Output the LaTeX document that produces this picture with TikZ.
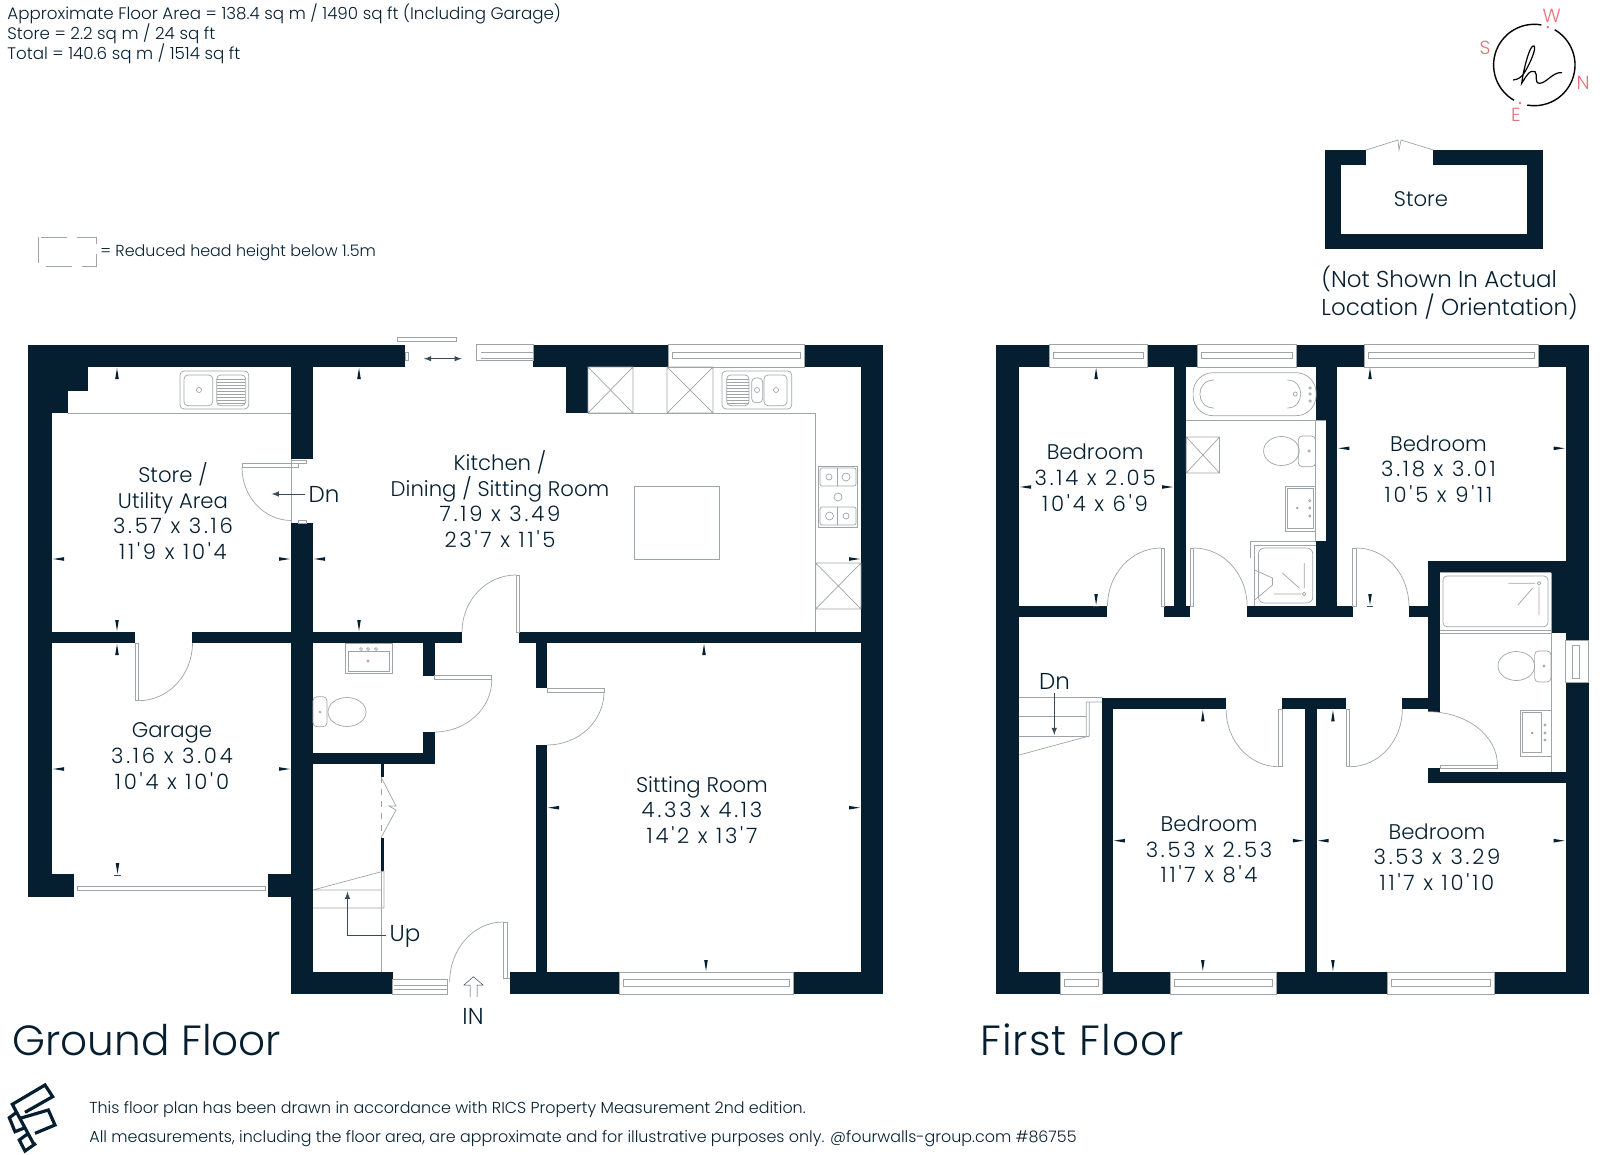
\documentclass[tikz,border=0pt]{standalone}
\usepackage{fontspec}
\usepackage{tikz}
\newfontfamily\planfont{Poppins Light}
\definecolor{navy}{HTML}{051F30}
\definecolor{linegrey}{HTML}{9EA4A8}
\definecolor{pinkish}{HTML}{E8707A}

% survey ticks, tip on the wall
\newcommand{\tkU}[2]{\fill[navy] (#1-1.8,#2+12) -- (#1,#2+1) -- (#1+1.8,#2+12) -- cycle;}
\newcommand{\tkD}[2]{\fill[navy] (#1-1.8,#2-12) -- (#1,#2-1) -- (#1+1.8,#2-12) -- cycle;}
\newcommand{\tkL}[2]{\fill[navy] (#1+12,#2-1.8) -- (#1+1,#2) -- (#1+12,#2+1.8) -- cycle;}
\newcommand{\tkR}[2]{\fill[navy] (#1-12,#2-1.8) -- (#1-1,#2) -- (#1-12,#2+1.8) -- cycle;}
% window: x1, x2, y1, y2, inner y1, inner y2
\newcommand{\winH}[6]{\draw[fixture] (#1,#3) rectangle (#2,#4);
  \draw[fixture] (#1+4,#5) rectangle (#2-4,#6);}
\newcommand{\xbox}[4]{\draw[fixture] (#1,#2) rectangle (#3,#4) (#1,#2) -- (#3,#4) (#1,#4) -- (#3,#2);}
\newcommand{\spot}[3]{\draw[fixture] (#1,#2) circle[radius=#3];}
% room sizes sit wider than the words
\newcommand{\sizes}[1]{{\addfontfeature{LetterSpace=13}#1}}

\begin{document}
\begin{tikzpicture}
    [x=0.5pt, y=-0.5pt,
     wall/.style={fill=navy, draw=none},
     fixture/.style={draw=linegrey, line width=0.35pt},
     pointer/.style={draw=navy!80!white, line width=0.25pt},
     room/.style={align=center, text=navy, inner sep=0pt, font=\planfont\fontsize{10.6}{12.8}\selectfont},
     sign/.style={text=navy, inner sep=0pt, font=\planfont\fontsize{11.5}{13}\selectfont},
     small/.style={anchor=west, text=navy, inner sep=0pt, font=\planfont\fontsize{7.95}{10}\selectfont},
     head/.style={anchor=west, text=navy, inner sep=0pt, font=\planfont\fontsize{8.35}{10}\selectfont},
     title/.style={anchor=west, text=navy, inner sep=0pt, font=\planfont\fontsize{21.1}{24}\selectfont},
     compass/.style={text=pinkish, inner sep=0pt, font=\planfont\fontsize{9.5}{11}\selectfont}]
    \useasboundingbox (0,0) rectangle (1600,1155);

    % header
    \node[head] (area) at (7,14) {Approximate Floor Area = 138.4 sq m / 1490 sq ft (Including Garage)};
    \node[head] (storearea) at (7,34) {Store = 2.2 sq m / 24 sq ft};
    \node[head] (total) at (7,54) {Total = 140.6 sq m / 1514 sq ft};
    \draw[fixture, dash pattern=on 13pt off 5pt] (38.5,237.5) rectangle (96,266);
    \node[small] (legend) at (100,253) {= Reduced head height below 1.5m};

    % ground floor walls
    \foreach \a/\b/\c/\d in {28/344.5/405/367, 28/344.5/52/897, 52/367/88/391, 52/391/68/413,
        291/367/313/459, 291/523/313/994, 52/632/135/643, 192/632/462/643, 519/632/883/643,
        533/344.5/668/367, 804/344.5/883/367, 861/367/883/994, 566/367/588/413,
        28/874/74/897, 268/874/313/897, 291/972/392.6/994, 510/972/619/994, 793/972/883/994,
        536/643/547/688, 536/745/547/972, 423/643/434.5/675.7, 423/732/434.5/764, 313/752.7/434.5/764,
        381/764/384/777, 381/837.7/384/871}
        \fill[wall] (\a,\b) rectangle (\c,\d);

    % ground floor windows
    \winH{668}{804}{344.5}{367}{352.5}{358}
    \winH{619}{793}{972}{994}{979}{986}
    \draw[fixture] (77,886) rectangle (265,890);
    \draw[fixture] (392.6,979) rectangle (447,994) (394,985) -- (447,985) (394,989) -- (447,989);
    \draw[fixture] (397,337) rectangle (456,341.7);
    \draw[fixture] (405,352) rectangle (408.5,360);
    \draw[fixture] (476.7,344.5) rectangle (533,360.7) (481,352.5) -- (533,352.5) (481,358) -- (533,358);
    \draw[pointer, <->, >=latex] (424,358.7) -- (461.7,358.7);

    % ground floor doors
    \draw[fixture] (516,575) rectangle (519,632);
    \draw[fixture] (516,575) arc[start angle=270, end angle=180, x radius=54, y radius=57];
    \draw[fixture] (135,643) rectangle (138.5,700.7);
    \draw[fixture] (138.5,700.7) arc[start angle=90, end angle=0, x radius=54, y radius=57.7];
    \draw[fixture] (242,463) rectangle (298,467.5) (291.5,459) -- (291.5,523);
    \draw[fixture] (291,460) -- (306.7,460) -- (306.7,463) -- (298,463);
    \draw[fixture] (298,523) rectangle (306.7,520);
    \draw[fixture] (242,467.5) arc[start angle=180, end angle=90, x radius=49.5, y radius=53];
    \draw[fixture] (434.5,675.7) rectangle (491.8,679.7);
    \draw[fixture] (491.8,679.7) arc[start angle=0, end angle=90, x radius=57.3, y radius=52.3];
    \draw[fixture] (547,688) rectangle (604,692);
    \draw[fixture] (604,692) arc[start angle=0, end angle=90, x radius=57, y radius=53];
    \draw[fixture] (503,922) rectangle (507,978) (507,978) -- (510,978);
    \draw[fixture] (503,922) arc[start angle=270, end angle=180, x radius=53.3, y radius=60];
    \draw[fixture] (381,777) -- (396,806) -- (389,806) -- (396,810) -- (381,837.7);
    \draw[fixture, dashed] (381,777) -- (381,837.7);

    % stairs up and entrance arrow
    \draw[fixture] (384,871) -- (313,890) (313,890) -- (381,890) (313,908) -- (384,908) -- (384,871);
    \draw[fixture] (381,871) -- (381,972);
    \draw[pointer, ->, >=latex] (386,935) -- (347.5,935) -- (347.5,891.7);
    \draw[pointer] (470,997) -- (470,985) -- (464,985) -- (473.4,976.7) -- (483,985) -- (477,985) -- (477,997);

    % counters and kitchen units
    \draw[fixture] (68,413) -- (291,413) (588,413) -- (815.7,413) -- (815.7,632);
    \xbox{588}{367}{633}{413}
    \xbox{667}{367}{713}{413}
    \xbox{815.7}{563}{861}{609}
    \draw[fixture] (634,486.7) rectangle (719,559);
    % utility sink
    \draw[fixture, rounded corners=2pt] (180,371) rectangle (248.7,409);
    \draw[fixture, rounded corners=2pt] (184,375) rectangle (212.7,405.7);
    \draw[fixture, rounded corners=2pt] (216.7,375) rectangle (245.7,405.7);
    \spot{199}{390}{2.5}
    \foreach \y in {379,382,...,403} \draw[fixture] (217,\y) -- (245,\y);
    % kitchen sink
    \draw[fixture, rounded corners=2pt] (722,371) rectangle (791.7,409);
    \draw[fixture, rounded corners=2pt] (726.7,375) rectangle (749,405.7);
    \draw[fixture, rounded corners=2pt] (751.7,378) rectangle (762.7,402.7);
    \draw[fixture, rounded corners=2pt] (764,375) rectangle (787,405.7);
    \spot{757}{390}{2.5}
    \spot{776}{390}{2.5}
    \foreach \y in {379,382,...,403} \draw[fixture] (727,\y) -- (749,\y);
    % hob
    \draw[fixture] (818,466.7) rectangle (857,527);
    \draw[fixture, rounded corners=1pt] (820,468) rectangle (856,486) (820,507) rectangle (856,525);
    \draw[fixture] (837,468) -- (837,486) (837,507) -- (837,525);
    \spot{829}{477}{3}
    \spot{846}{477}{4}
    \spot{838}{497}{4}
    \spot{829.5}{516}{4}
    \spot{846}{516}{3}
    % cloakroom
    \draw[fixture] (345.6,643) rectangle (392,673) (348,651) rectangle (389,671);
    \spot{361}{649}{1.5}
    \spot{368}{649}{1.5}
    \spot{376}{649}{1.5}
    \spot{368}{661}{1.2}
    \draw[fixture, rounded corners=2pt] (313,696.7) rectangle (327,726.7);
    \draw[fixture] (347,712) ellipse[x radius=19, y radius=14.5];
    \draw[fixture] (320,712) circle[radius=1];

    % ground floor ticks
    \tkU{117}{367} \tkL{52}{559} \tkR{291}{559} \tkD{117}{632}
    \tkU{117}{643} \tkL{52}{769} \tkR{291}{769} \tkD{117.5}{875}
    \draw[pointer] (114,875) -- (121,875);
    \tkU{359}{367} \tkL{313}{559} \tkR{861}{559} \tkD{359}{632}
    \tkU{704}{643} \tkL{547}{807.7} \tkR{861}{807.7} \tkD{706}{972}

    % ground floor labels
    \node[room] (utility) at (173,511) {Store /\\Utility Area\\\sizes{3.57 x 3.16}\\\sizes{11'9 x 10'4}};
    \node[room] (kitchen) at (500,499) {Kitchen /\\Dining / Sitting Room\\\sizes{7.19 x 3.49}\\\sizes{23'7 x 11'5}};
    \node[room] (garage) at (172,756) {Garage\\\sizes{3.16 x 3.04}\\\sizes{10'4 x 10'0}};
    \node[room] (sitting) at (702,810) {Sitting Room\\\sizes{4.33 x 4.13}\\\sizes{14'2 x 13'7}};
    \node[sign] (dnutil) at (324,494) {Dn};
    \node[sign] (up) at (405,936) {Up};
    \node[sign] (in) at (473,1016) {IN};
    \draw[pointer, ->, >=latex] (dnutil.west) ++(-3,0) -- (271.7,494);

    % first floor
    \begin{scope}[shift={(8.96,0)}, xscale=0.991]
    \foreach \a/\b/\c/\d in {996/344.5/1049.6/367, 1149/344.5/1199/367, 1299/344.5/1367.5/367, 1543.4/344.5/1594.4/367,
        996/367/1019.4/994, 1570.8/367/1594.4/572.7, 1570.8/682.3/1594.4/994, 1175.6/367/1188/606,
        1318.5/367/1340.5/420.7, 1329/420.7/1340.5/541, 1318.5/541/1340.5/606,
        1019.4/606/1108.5/617.3, 1165.4/606/1191.7/617.3, 1249.4/606/1355.8/617.3, 1412.7/606/1444/617.3,
        1432.3/561/1594.4/572.7, 1432.3/561/1444/711.7, 1556/572.7/1594.4/633, 1570.8/633/1594.4/640.7,
        1103/697.7/1228.2/709.3, 1285/697.7/1349.5/709.3, 1406/697.7/1444/709.3,
        1103/697.7/1114/994, 1307.5/697.7/1319.7/994,
        1432.3/768.3/1444/783.3, 1444/772.3/1571/783.3,
        1019.4/972/1060.6/994, 1114/972/1171.7/994, 1279/972/1391/994, 1498.6/972/1571/994}
        \fill[wall] (\a,\b) rectangle (\c,\d);

    % first floor windows
    \winH{1049.6}{1149}{344.5}{367}{352.5}{358}
    \winH{1199}{1299}{344.5}{367}{352.5}{358}
    \winH{1367.5}{1543.4}{344.5}{367}{352.5}{358}
    \winH{1060.6}{1103}{972}{994}{979}{986}
    \winH{1171.7}{1279}{972}{994}{979}{986}
    \winH{1391}{1498.6}{972}{994}{979}{986}
    \draw[fixture] (1571,640.7) rectangle (1594,682.3) (1578,645) rectangle (1585,678);

    % first floor doors
    \draw[fixture] (1162.7,548) rectangle (1166,606);
    \draw[fixture] (1162.7,548) arc[start angle=270, end angle=180, x radius=54.2, y radius=58];
    \draw[fixture] (1191.7,548) rectangle (1195.6,606);
    \draw[fixture] (1195.6,548) arc[start angle=270, end angle=360, x radius=53.8, y radius=58];
    \draw[fixture] (1355.8,548) rectangle (1359.8,606);
    \draw[fixture] (1359.8,548) arc[start angle=270, end angle=360, x radius=52.9, y radius=58];
    \draw[fixture] (1281,709.3) rectangle (1285,766.7);
    \draw[fixture] (1281,766.7) arc[start angle=90, end angle=180, x radius=52.8, y radius=57.4];
    \draw[fixture] (1349.5,709.3) rectangle (1353,766.7);
    \draw[fixture] (1353,766.7) arc[start angle=90, end angle=0, x radius=53, y radius=57.4];
    \draw[fixture] (1444,765) rectangle (1502,768.3);
    \draw[fixture] (1502,765) arc[start angle=0, end angle=-90, x radius=70, y radius=53.3];

    % stairs down
    \draw[fixture] (1019.4,697.7) -- (1103,697.7) (1019.4,716.7) -- (1087,716.7) (1019.4,736) -- (1090,736);
    \draw[fixture] (1103,702) -- (1087,702) -- (1087,736) (1090,702) -- (1090,736) -- (1019.4,755);
    \draw[pointer, ->, >=latex] (1054.8,693) -- (1054.8,735);
    \node[sign] (dnfirst) at (1055,681) {Dn};

    % bathroom
    \draw[fixture, rounded corners=10pt] (1194.9,372.7) rectangle (1319,415.7);
    \draw[fixture] (1216,380) .. controls (1197,380) and (1197,408) .. (1216,408);
    \draw[fixture] (1290,380) .. controls (1308,380) and (1308,408) .. (1290,408);
    \draw[fixture] (1188,420.7) -- (1329,420.7) (1318.5,420.7) -- (1318.5,541);
    \spot{1298}{394}{2}
    \spot{1313}{388}{1.2}
    \spot{1313}{394}{1.2}
    \spot{1313}{401}{1.2}
    \xbox{1188}{437}{1221.6}{473}
    \draw[fixture, rounded corners=2pt] (1301,436) rectangle (1318.5,466.7);
    \draw[fixture] (1284,451) ellipse[x radius=18, y radius=14.5];
    \draw[fixture] (1312,451) circle[radius=1.2];
    \draw[fixture] (1288,486) rectangle (1318.5,531.7) (1290,488) rectangle (1316,528);
    \spot{1312.6}{500.7}{1.2}
    \spot{1312.6}{508}{1.2}
    \spot{1312.6}{516}{1.2}
    \spot{1300}{508}{0.9}
    % shower
    \draw[fixture] (1253,558) -- (1253,541) -- (1318.5,541) (1257,606) -- (1257,545) -- (1318.5,545);
    \draw[fixture, rounded corners=3pt] (1260.8,548) rectangle (1315.7,603);
    \draw[fixture] (1257,570) -- (1275,578) -- (1275,585) -- (1257,600);
    \draw[fixture] (1307,563) -- (1307,588) (1276.5,594) -- (1304,594) (1285,573) -- (1302,588);
    \spot{1307}{594}{1.8}

    % en-suite
    \draw[fixture, rounded corners=2pt] (1447,576) rectangle (1553,626.7);
    \draw[fixture] (1444,572.7) -- (1556,572.7) (1444,630) -- (1556,630) (1444,633) -- (1556,633) (1556,572.7) -- (1556,772.3);
    \draw[fixture] (1513,583.3) -- (1540,583.3) (1544,587) -- (1544,615) (1522.6,605) -- (1537.5,588);
    \spot{1544}{583.3}{1.8}
    \draw[fixture, rounded corners=2pt] (1539.5,651) rectangle (1556,682);
    \draw[fixture] (1521,666) ellipse[x radius=18.5, y radius=14.5];
    \draw[fixture] (1549,666) circle[radius=1.2];
    \draw[fixture] (1525,710) rectangle (1556,756) (1527,712) rectangle (1546,752);
    \spot{1550}{725}{1.2}
    \spot{1550}{733}{1.2}
    \spot{1550}{740}{1.2}
    \spot{1537}{733}{0.9}

    % first floor ticks
    \tkU{1097}{367} \tkL{1019.4}{487} \tkR{1175.6}{487} \tkD{1097}{606}
    \tkU{1373.4}{367} \tkL{1340.5}{448.3} \tkR{1570.8}{448.3} \tkD{1373.4}{606}
    \tkU{1204.7}{709.3} \tkL{1114}{840.7} \tkR{1307.5}{840.7} \tkD{1204.7}{972}
    \tkU{1336}{709.3} \tkL{1319.7}{840.7} \tkR{1570.8}{840.7} \tkD{1336}{972}
    \draw[pointer] (1094,606) -- (1100,606) (1370.4,606) -- (1376.4,606);

    % first floor labels
    \node[room] (bedA) at (1096,477.7) {Bedroom\\\sizes{3.14 x 2.05}\\\sizes{10'4 x 6'9}};
    \node[room] (bedB) at (1442.5,469) {Bedroom\\\sizes{3.18 x 3.01}\\\sizes{10'5 x 9'11}};
    \node[room] (bedC) at (1211,849.5) {Bedroom\\\sizes{3.53 x 2.53}\\\sizes{11'7 x 8'4}};
    \node[room] (bedD) at (1441,857) {Bedroom\\\sizes{3.53 x 3.29}\\\sizes{11'7 x 10'10}};
    \end{scope}

    % outbuilding
    \foreach \a/\b/\c/\d in {1325/150/1366/165.3, 1433.3/150/1542.7/165.3, 1325/165.3/1340.7/233.7,
        1527.3/165.3/1542.7/233.7, 1325/233.7/1542.7/249.3}
        \fill[wall] (\a,\b) rectangle (\c,\d);
    \draw[fixture] (1366,150) -- (1398,140) -- (1399,150) -- (1401,140) -- (1433.3,150);
    \node[room] (store) at (1421,199) {Store};
    \node[sign, anchor=west] (shown) at (1321,279) {(Not Shown In Actual};
    \node[sign, anchor=west] (place) at (1321,307) {Location / Orientation)};

    % compass
    \draw[black, line width=0.7pt] (1534.3,65) ++(-80:40.7) arc[start angle=-80, end angle=-240, radius=40.7];
    \draw[black, line width=0.7pt] (1534.3,65) ++(100:40.7) arc[start angle=100, end angle=-60, radius=40.7];
    \fill[pinkish] (1547.7,27) circle[radius=1.3] (1520,103) circle[radius=1.3];
    \node[compass] (west) at (1551.7,15.7) {W};
    \node[compass] (south) at (1485,47.7) {S};
    \node[compass] (north) at (1583,83) {N};
    \node[compass] (east) at (1516,115) {E};
    \begin{scope}[shift={(1300,0)}, scale=1/3]
        \draw[black, line width=0.6pt, line cap=round]
            (640,240) .. controls (655,238) and (665,232) .. (675,215)
            .. controls (690,190) and (710,145) .. (702,138)
            .. controls (690,130) and (670,210) .. (665,250)
            .. controls (675,235) and (690,205) .. (705,215)
            .. controls (715,225) and (700,250) .. (720,250)
            .. controls (740,248) and (760,215) .. (785,218);
    \end{scope}

    % titles
    \node[title] (ground) at (12,1040) {Ground Floor};
    \node[title] (first) at (980,1040) {\addfontfeature{LetterSpace=2.5}First Floor};

    % footer
    \node[small] (footA) at (89,1110) {This floor plan has been drawn in accordance with RICS Property Measurement 2nd edition.};
    \node[small] (footB) at (89,1139) {All measurements, including the floor area, are approximate and for illustrative purposes only. @fourwalls-group.com \#86755};
    \begin{scope}[shift={(0,1075)}, scale=1/3]
        \draw[navy, line width=1.6pt, line join=miter]
            (100,205) -- (37,88) -- (135,30) -- (158,65) -- (75,112)
            (60,130) -- (145,105) -- (165,150) -- (105,175)
            (50,112) -- (28,128) -- (45,170) -- (70,160)
            (85,175) -- (58,195) -- (75,228) -- (108,205);
    \end{scope}
\end{tikzpicture}
\end{document}
